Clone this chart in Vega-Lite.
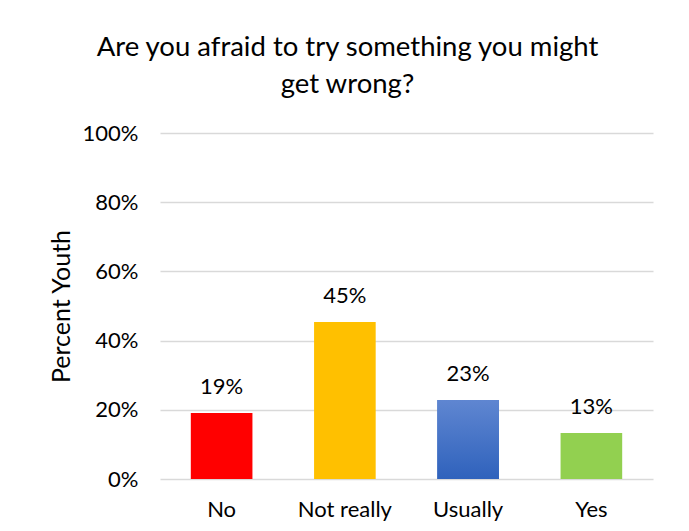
{
  "$schema": "https://vega.github.io/schema/vega-lite/v6.json",
  "autosize": {"type": "none"},
  "width": 493,
  "height": 346,
  "padding": {"left": 160, "top": 133, "right": 36, "bottom": 52},
  "background": "white",
  "config": {
    "view": {"stroke": null},
    "font": "Lato",
    "axis": {"labelFont": "Lato", "titleFont": "Lato", "labelColor": "#000", "titleColor": "#000"}
  },
  "title": {
    "text": ["Are you afraid to try something you might", "get wrong?"],
    "fontSize": 27.5,
    "font": "Lato",
    "fontWeight": "normal",
    "color": "#000",
    "anchor": "middle",
    "frame": "group",
    "dx": -59,
    "offset": 24,
    "lineHeight": 37
  },
  "data": {
    "values": [
      {"answer": "No", "pct": 0.191},
      {"answer": "Not really", "pct": 0.454},
      {"answer": "Usually", "pct": 0.228},
      {"answer": "Yes", "pct": 0.133}
    ]
  },
  "encoding": {
    "x": {
      "field": "answer",
      "type": "nominal",
      "sort": null,
      "scale": {"paddingInner": 0.5, "paddingOuter": 0.25},
      "axis": {"title": null, "labelAngle": 0, "labelFontSize": 22, "labelPadding": 20, "ticks": false, "domain": false}
    },
    "y": {
      "field": "pct",
      "type": "quantitative",
      "scale": {"domain": [0, 1]},
      "axis": {
        "title": "Percent Youth",
        "titleFontSize": 25,
        "titleFontWeight": "normal",
        "titlePadding": 8,
        "values": [0, 0.2, 0.4, 0.6, 0.8, 1],
        "format": ".0%",
        "labelFontSize": 22,
        "labelPadding": 22,
        "ticks": false,
        "domain": false,
        "grid": true,
        "gridColor": "#d9d9d9",
        "gridWidth": 1.5
      }
    }
  },
  "layer": [
    {
      "mark": {"type": "bar"},
      "encoding": {
        "color": {
          "field": "answer",
          "type": "nominal",
          "scale": {"domain": ["No", "Not really", "Usually", "Yes"], "range": ["#FF0000", "#FFC000", "#4472C4", "#92D050"]},
          "legend": null
        }
      }
    },
    {
      "transform": [{"filter": "datum.answer === 'Usually'"}],
      "mark": {
        "type": "bar",
        "color": {
          "gradient": "linear",
          "x1": 0, "y1": 0, "x2": 0, "y2": 1,
          "stops": [
            {"offset": 0, "color": "#5F86D1"},
            {"offset": 1, "color": "#2F62BC"}
          ]
        }
      }
    },
    {
      "mark": {"type": "text", "baseline": "bottom", "dy": -14, "fontSize": 22, "color": "#000", "font": "Lato"},
      "encoding": {
        "text": {"field": "pct", "type": "quantitative", "format": ".0%"}
      }
    }
  ]
}
